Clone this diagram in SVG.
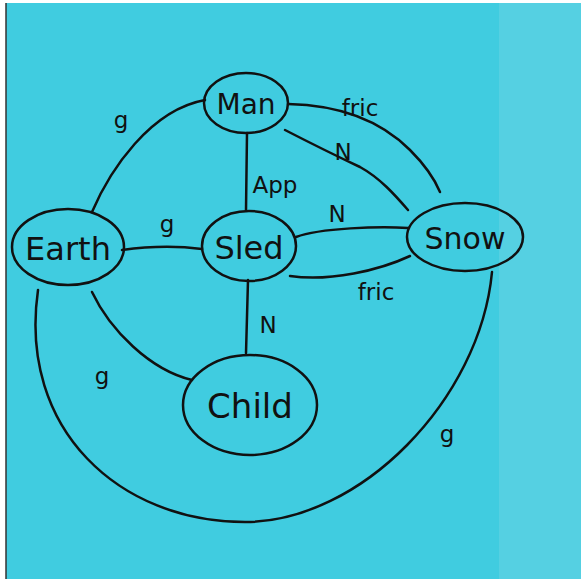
<svg xmlns="http://www.w3.org/2000/svg" width="581" height="579" viewBox="0 0 581 579">
<style>
.n{fill:none;stroke:#111;stroke-width:2.5}
.e{fill:none;stroke:#111;stroke-width:2.5;stroke-linecap:round}
.t{font-family:"DejaVu Sans","Liberation Sans",sans-serif;fill:#111;text-anchor:middle}
.l{font-family:"DejaVu Sans","Liberation Sans",sans-serif;fill:#111;text-anchor:middle;font-size:23px}
</style>
<rect x="0" y="0" width="581" height="579" fill="#ffffff"/>
<rect x="6" y="3" width="575" height="576" fill="#40cce0"/>
<rect x="499" y="3" width="82" height="576" fill="#55d0e2"/>
<line x1="6" y1="3" x2="6" y2="579" stroke="#333" stroke-width="1.5"/>
<g id="connectors">
<path class="e" d="M92,212 C110,170 150,110 205,100"/>
<path class="e" d="M247,133 L246,210"/>
<path class="e" d="M288,104 C340,105 380,120 410,150 C425,165 435,180 440,192"/>
<path class="e" d="M285,130 C320,148 345,160 360,167 C380,178 395,195 408,210"/>
<path class="e" d="M122,250 C150,246 180,246 202,249"/>
<path class="e" d="M296,237 C320,228 380,226 408,228"/>
<path class="e" d="M290,276 C330,282 380,270 410,256"/>
<path class="e" d="M248,280 L246,353"/>
<path class="e" d="M92,292 C110,330 150,370 192,380"/>
<path class="e" d="M38,290 C18,430 120,522 245,522 C360,522 480,400 492,272"/>
</g>
<g id="labels">
<text class="l" x="121" y="128">g</text>
<text class="l" x="275" y="193">App</text>
<text class="l" x="360" y="116">fric</text>
<text class="l" x="343" y="160">N</text>
<text class="l" x="167" y="232">g</text>
<text class="l" x="337" y="222">N</text>
<text class="l" x="376" y="300">fric</text>
<text class="l" x="268" y="333">N</text>
<text class="l" x="102" y="384">g</text>
<text class="l" x="447" y="442">g</text>
</g>
<g id="man">
<ellipse class="n" cx="246" cy="103" rx="42" ry="30"/>
<text class="t" x="246" y="114" font-size="28">Man</text>
</g>
<g id="earth">
<ellipse class="n" cx="68" cy="247" rx="56" ry="38"/>
<text class="t" x="68" y="260" font-size="32">Earth</text>
</g>
<g id="sled">
<ellipse class="n" cx="249" cy="246" rx="47" ry="35"/>
<text class="t" x="249" y="259" font-size="32">Sled</text>
</g>
<g id="snow">
<ellipse class="n" cx="465" cy="237" rx="58" ry="34"/>
<text class="t" x="465" y="249" font-size="30">Snow</text>
</g>
<g id="child">
<ellipse class="n" cx="250" cy="405" rx="67" ry="50"/>
<text class="t" x="250" y="418" font-size="34">Child</text>
</g>
</svg>
